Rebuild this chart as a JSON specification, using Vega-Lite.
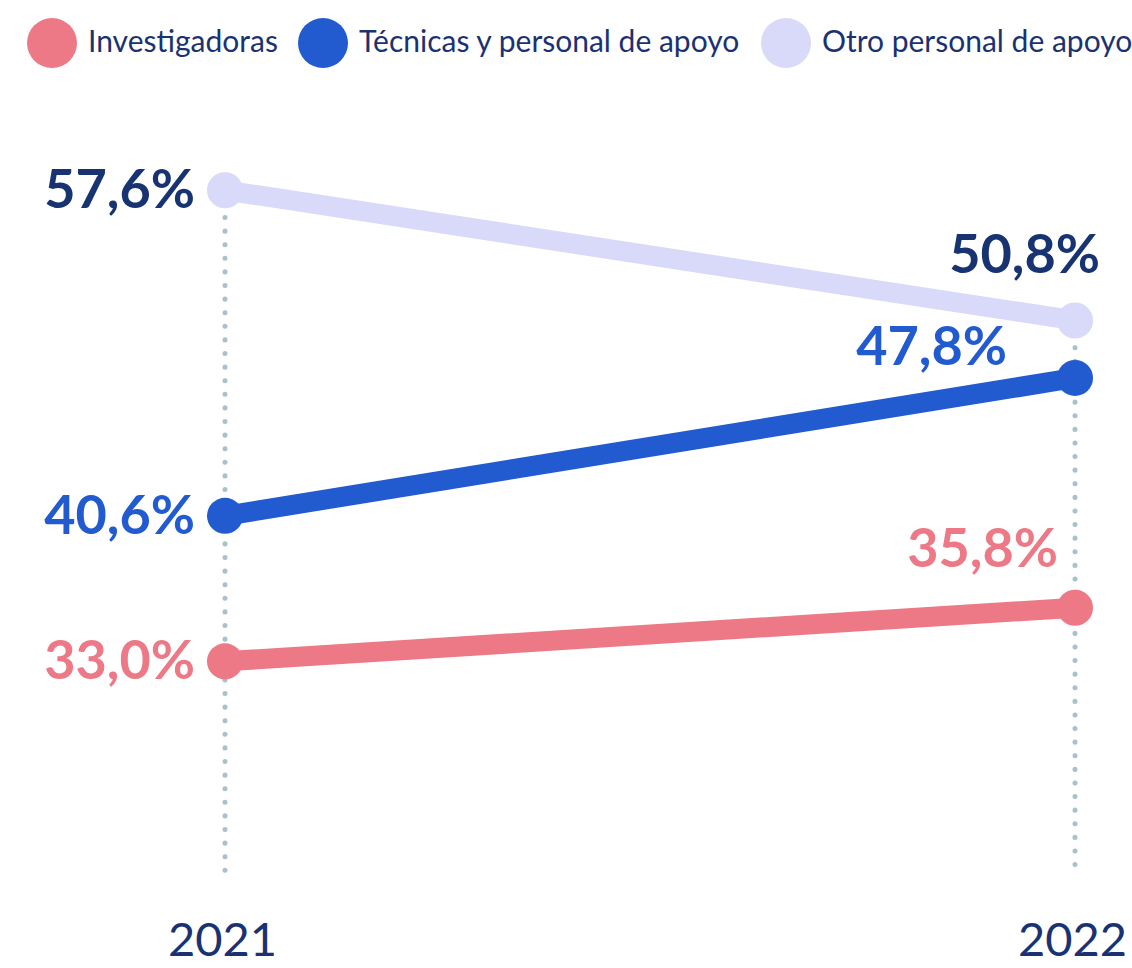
{
  "$schema": "https://vega.github.io/schema/vega-lite/v6.json",
  "width": 850,
  "height": 766,
  "autosize": {"type": "none"},
  "padding": {"left": 225, "top": 106, "right": 57, "bottom": 96},
  "background": "white",
  "config": {"view": {"stroke": null}, "font": "Lato"},
  "data": {
    "values": [
      {"year": "2021", "serie": "Investigadoras", "value": 33.0},
      {"year": "2022", "serie": "Investigadoras", "value": 35.8},
      {"year": "2021", "serie": "Técnicas y personal de apoyo", "value": 40.6},
      {"year": "2022", "serie": "Técnicas y personal de apoyo", "value": 47.8},
      {"year": "2021", "serie": "Otro personal de apoyo", "value": 57.6},
      {"year": "2022", "serie": "Otro personal de apoyo", "value": 50.8}
    ]
  },
  "transform": [
    {"calculate": "replace(format(datum.value, '.1f'), '.', ',') + '%'", "as": "label"}
  ],
  "encoding": {
    "x": {
      "field": "year", "type": "ordinal",
      "scale": {"type": "point", "padding": 0},
      "axis": {
        "orient": "bottom", "title": null, "domain": false, "ticks": false, "grid": false,
        "labelAngle": 0, "labelFontSize": 47, "labelFont": "Lato", "labelColor": "#1b3272",
        "labelPadding": 46, "labelOffset": -3
      }
    },
    "y": {
      "field": "value", "type": "quantitative",
      "scale": {"domain": [22, 62], "nice": false, "zero": false},
      "axis": null
    }
  },
  "layer": [
    {
      "mark": {"type": "rule", "stroke": "#a8c2cb", "strokeWidth": 5, "strokeCap": "round", "strokeDash": [0.1, 13.5]},
      "encoding": {
        "y": {"aggregate": "max", "field": "value", "type": "quantitative"},
        "y2": {"datum": 22}
      }
    },
    {
      "mark": {"type": "line", "strokeWidth": 20, "strokeCap": "butt"},
      "encoding": {
        "detail": {"field": "serie", "type": "nominal"},
        "stroke": {
          "condition": [
            {"test": "datum.serie == 'Investigadoras'", "value": "#ec7985"},
            {"test": "datum.serie == 'Técnicas y personal de apoyo'", "value": "#215bcf"}
          ],
          "value": "#d9d9f9"
        }
      }
    },
    {
      "mark": {"type": "point", "shape": "circle", "filled": true, "size": 1300, "opacity": 1, "strokeWidth": 0},
      "encoding": {
        "color": {
          "field": "serie", "type": "nominal",
          "scale": {
            "domain": ["Investigadoras", "Técnicas y personal de apoyo", "Otro personal de apoyo"],
            "range": ["#ec7985", "#215bcf", "#d9d9f9"]
          },
          "legend": {
            "title": null, "orient": "none", "direction": "horizontal",
            "legendX": -198, "legendY": -88,
            "symbolType": "circle", "symbolSize": 2500, "symbolStrokeWidth": 0, "symbolOpacity": 1,
            "labelFontSize": 30, "labelFont": "Lato", "labelColor": "#1b3272",
            "labelOffset": 11, "columnPadding": 20, "labelLimit": 0
          }
        }
      }
    },
    {
      "transform": [{"filter": "datum.year == '2021'"}],
      "mark": {"type": "text", "align": "right", "baseline": "middle", "dx": -30, "dy": 2, "fontSize": 54, "fontWeight": "bold", "font": "Lato"},
      "encoding": {
        "text": {"field": "label"},
        "fill": {
          "condition": [
            {"test": "datum.serie == 'Investigadoras'", "value": "#ec7985"},
            {"test": "datum.serie == 'Técnicas y personal de apoyo'", "value": "#215bcf"}
          ],
          "value": "#173372"
        }
      }
    },
    {
      "transform": [{"filter": "datum.year == '2022' && datum.serie == 'Otro personal de apoyo'"}],
      "mark": {"type": "text", "align": "right", "baseline": "alphabetic", "dx": 25, "dy": -47, "fontSize": 54, "fontWeight": "bold", "font": "Lato", "fill": "#173372"},
      "encoding": {"text": {"field": "label"}}
    },
    {
      "transform": [{"filter": "datum.year == '2022' && datum.serie == 'Técnicas y personal de apoyo'"}],
      "mark": {"type": "text", "align": "right", "baseline": "alphabetic", "dx": -68, "dy": -13, "fontSize": 54, "fontWeight": "bold", "font": "Lato", "fill": "#215bcf"},
      "encoding": {"text": {"field": "label"}}
    },
    {
      "transform": [{"filter": "datum.year == '2022' && datum.serie == 'Investigadoras'"}],
      "mark": {"type": "text", "align": "right", "baseline": "alphabetic", "dx": -17, "dy": -41, "fontSize": 54, "fontWeight": "bold", "font": "Lato", "fill": "#ec7985"},
      "encoding": {"text": {"field": "label"}}
    }
  ]
}
